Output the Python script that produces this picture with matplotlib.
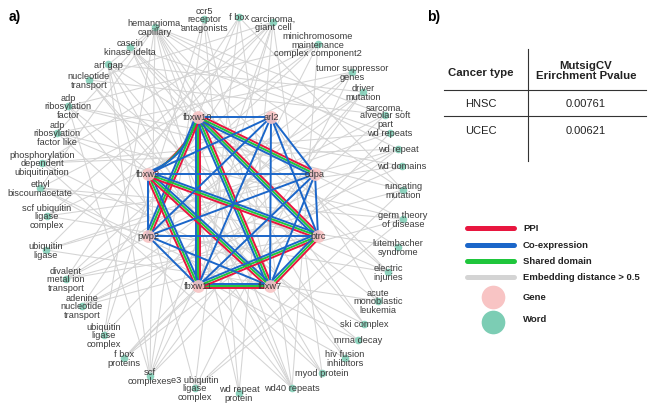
import numpy as np
import matplotlib.pyplot as plt

plt.rcParams['font.family'] = ['Liberation Sans', 'DejaVu Sans']

# gene nodes (inner ring) and their positions in the picture
genes = ['fbxw10', 'arl2', 'cdpa', 'btrc', 'fbxw7', 'fbxw11', 'pwp2', 'fbxw2']
gene_x = [198, 271, 315, 318, 270, 198, 148, 148]
gene_y = [118, 118, 175, 237, 287, 287, 237, 175]

# word nodes (outer ring), index 8.. in the edge lists
words = ['f box', 'ccr5\nreceptor\nantagonists', 'hemangioma,\ncapillary',
         'casein\nkinase idelta', 'arf gap', 'nucleotide\ntransport',
         'adp\nribosylation\nfactor', 'adp\nribosylation\nfactor like',
         'phosphorylation\ndependent\nubiquitination', 'ethyl\nbiscoumacetate',
         'scf ubiquitin\nligase\ncomplex', 'ubiquitin\nligase',
         'divalent\nmetal ion\ntransport', 'adenine\nnucleotide\ntransport',
         'ubiquitin\nligase\ncomplex', 'f box\nproteins', 'scf\ncomplexes',
         'e3 ubiquitin\nligase\ncomplex', 'wd repeat\nprotein', 'wd40 repeats',
         'myod protein', 'hiv fusion\ninhibitors', 'mrna decay', 'ski complex',
         'acute\nmonoblastic\nleukemia', 'electric\ninjuries',
         'lutembacher\nsyndrome', 'germ theory\nof disease', 'runcating\nmutation',
         'wd domains', 'wd repeat', 'wd repeats', 'sarcoma,\nalveolar soft\npart',
         'driver\nmutation', 'tumor suppressor\ngenes',
         'minichromosome\nmaintenance\ncomplex component2', 'carcinoma,\ngiant cell']
word_x = [239, 204, 155, 130, 108, 89, 68, 57, 42, 40, 47, 46, 66, 82, 104, 124, 150,
          195, 239, 292, 322, 345, 358, 364, 378, 388, 398, 403, 403, 402, 398, 390,
          385, 363, 352, 318, 273]
word_y = [18, 20, 28, 48, 65, 81, 107, 134, 164, 189, 217, 251, 280, 307, 336, 359, 377,
          389, 394, 389, 374, 359, 341, 325, 302, 273, 248, 220, 191, 167, 150, 134,
          116, 93, 73, 45, 23]

# gene-gene links
ppi_edges = [(0, 7), (0, 5), (0, 4), (0, 3), (0, 2), (0, 6), (7, 5), (7, 4), (7, 3),
             (5, 4), (5, 3), (4, 3)]
shared_edges = ppi_edges
coexp_edges = [(0, 1), (0, 2), (0, 3), (0, 4), (0, 5), (0, 6), (0, 7),
               (1, 2), (1, 3), (1, 4), (1, 5), (1, 6), (1, 7),
               (2, 3), (2, 4), (2, 5), (2, 6), (2, 7),
               (3, 4), (3, 5), (3, 6), (3, 7),
               (4, 5), (4, 6), (4, 7), (5, 6), (5, 7), (6, 7)]

# embedding distance > 0.5 links (node index: genes 0-7, words 8-44)
gray_edges = [(10, 27), (10, 33), (10, 36), (10, 24), (10, 40), (10, 29), (10, 31), (10, 22),
              (10, 38), (10, 26), (10, 13), (10, 15), (10, 17), (10, 0),
              (44, 21), (44, 24), (44, 28), (44, 19), (44, 16), (44, 26), (44, 13), (44, 18), (44, 5),
              (24, 43), (24, 41), (24, 39), (24, 9), (24, 12), (24, 14),
              (27, 43), (27, 11), (27, 16), (27, 14), (27, 8), (27, 12),
              (25, 42), (25, 8), (25, 36), (25, 12),
              (9, 26), (9, 22), (9, 4), (8, 20), (8, 36), (8, 6),
              (43, 20), (43, 17), (43, 14), (43, 7), (42, 22), (42, 18), (42, 15), (42, 6),
              (41, 20), (41, 12), (41, 23), (40, 23), (40, 13), (39, 19), (39, 11),
              (38, 16), (38, 21), (37, 21), (37, 14), (36, 14), (36, 20),
              (35, 15), (35, 25), (35, 0), (34, 17), (34, 12), (33, 11), (33, 18),
              (32, 13), (32, 19), (32, 1), (31, 16), (31, 11), (30, 14), (30, 17),
              (29, 12), (29, 17), (28, 15), (28, 13), (23, 38), (23, 2),
              (21, 35), (21, 41), (20, 40), (20, 3), (19, 38), (18, 37), (17, 35),
              (16, 39), (15, 33), (11, 28), (11, 3), (13, 4)]

# table in panel b
cancer_types = ['HNSC', 'UCEC']
pvalues = ['0.00761', '0.00621']

c_ppi = '#e8163f'
c_coexp = '#1b66c9'
c_shared = '#1fc63c'
c_gray = '#d4d4d4'
c_gene = '#f8c4c4'
c_word = '#7ccdb4'

xs = gene_x + word_x
ys = gene_y + word_y

fig = plt.figure(figsize=(6.54, 4.14), dpi=100)
ax = fig.add_axes([0, 0, 1, 1])
ax.set_xlim(0, 654)
ax.set_ylim(414, 0)
ax.axis('off')

# gray embedding edges
for a, b in gray_edges:
    ax.plot([xs[a], xs[b]], [ys[a], ys[b]], color=c_gray, lw=0.75, zorder=1)

# colored gene edges, drawn side by side when a pair has several
pairs = {}
for kind, edges in [('ppi', ppi_edges), ('shared', shared_edges), ('coexp', coexp_edges)]:
    for e in edges:
        pairs.setdefault(tuple(sorted(e)), []).append(kind)
colors = {'ppi': c_ppi, 'shared': c_shared, 'coexp': c_coexp}
gap = 2.3
t = np.linspace(0, 1, 30)
for (a, b), kinds in pairs.items():
    dx = xs[b] - xs[a]
    dy = ys[b] - ys[a]
    L = (dx ** 2 + dy ** 2) ** 0.5
    nx, ny = -dy / L, dx / L
    n = len(kinds)
    # the fbxw10 - fbxw2 link bends outwards
    bend = -8 if (a, b) == (0, 7) else 0
    for i, k in enumerate(kinds):
        off = (i - (n - 1) / 2) * gap
        h = bend * (1 + off / 6)
        px = xs[a] + dx * t + nx * (off + 4 * h * t * (1 - t))
        py = ys[a] + dy * t + ny * (off + 4 * h * t * (1 - t))
        ax.plot(px, py, color=colors[k], lw=1.4, zorder=2, solid_capstyle='round')

# nodes and labels
ax.scatter(word_x, word_y, s=30, color=c_word, alpha=0.85, lw=0, zorder=3)
ax.scatter(gene_x, gene_y, s=85, color=c_gene, alpha=0.9, lw=0, zorder=3)
for lab, x, y in zip(words, word_x, word_y):
    ax.text(x, y, lab, ha='center', va='center', fontsize=6.7, color='#3c3c3c',
            linespacing=0.86, zorder=4)
for lab, x, y in zip(genes, gene_x, gene_y):
    ax.text(x, y, lab, ha='center', va='center', fontsize=6.7, color='#3c3c3c', zorder=4)

ax.text(9, 17, 'a)', fontsize=10, fontweight='bold', va='center')
ax.text(427, 17, 'b)', fontsize=10, fontweight='bold', va='center')

# panel b table
ax.plot([528, 528], [50, 162], color='#333333', lw=0.8)
ax.plot([444, 646], [91, 91], color='#333333', lw=0.8)
ax.plot([444, 646], [117, 117], color='#333333', lw=0.8)
ax.text(481, 73, 'Cancer type', ha='center', va='center', fontsize=8.2, fontweight='bold', color='#222222')
ax.text(586, 71, 'MutsigCV\nErirchment Pvalue', ha='center', va='center', fontsize=8.2,
        fontweight='bold', color='#222222', linespacing=1.1)
for i, (ct, pv) in enumerate(zip(cancer_types, pvalues)):
    yy = 104 + i * 27
    ax.text(481, yy, ct, ha='center', va='center', fontsize=8, color='#222222')
    ax.text(586, yy, pv, ha='center', va='center', fontsize=8, color='#222222')

# legend
leg_lines = [('PPI', c_ppi, 229), ('Co-expression', c_coexp, 246),
             ('Shared domain', c_shared, 262), ('Embedding distance > 0.5', c_gray, 278)]
for lab, c, y in leg_lines:
    ax.plot([467, 514], [y, y], color=c, lw=3.6, solid_capstyle='round')
    ax.text(523, y, lab, va='center', fontsize=6.8, fontweight='bold', color='#222222')
ax.scatter([493], [298], s=290, color=c_gene, lw=0)
ax.text(523, 298, 'Gene', va='center', fontsize=6.8, fontweight='bold', color='#222222')
ax.scatter([493], [323], s=290, color=c_word, lw=0)
ax.text(523, 320, 'Word', va='center', fontsize=6.8, fontweight='bold', color='#222222')

fig.savefig('out.png', dpi=100)
